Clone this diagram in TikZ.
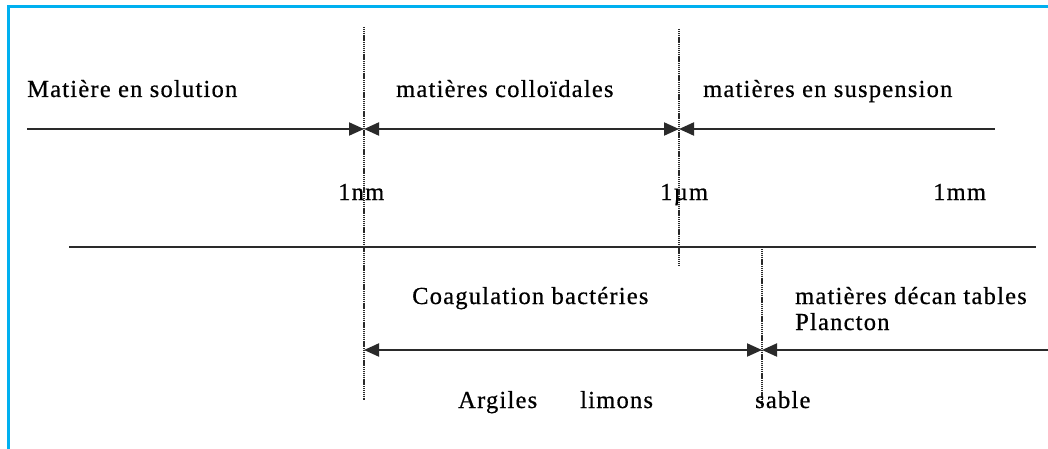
\documentclass[tikz,border=0pt]{standalone}
\usepackage{fontspec}
\setmainfont{Liberation Serif}[LetterSpace=5, FakeBold=0.6]
\usetikzlibrary{arrows.meta}
\definecolor{framecol}{HTML}{00B0F0}
\definecolor{linecol}{HTML}{2A2A2A}
\tikzset{
  label text/.style={anchor=base west, inner sep=0pt, font=\fontsize{24.5}{28}\selectfont},
  scale line/.style={draw=linecol, line width=2pt},
  limit/.style={draw=linecol, line width=2.2pt, dash pattern=on 1.2pt off 0.7pt},
}
\begin{document}
\begin{tikzpicture}[x=1pt,y=-1pt]
  \useasboundingbox (0,0) rectangle (1048,449);
  \clip (0,0) rectangle (1048,449);
  \fill[white] (0,0) rectangle (1048,449);
  % outer frame
  \draw[framecol, line width=3pt] (8,7) rectangle (1070,470);

  % size limits
  \coordinate (nmTop) at (364,27);
  \coordinate (nmBot) at (364,400);
  \coordinate (umTop) at (679,29);
  \coordinate (umBot) at (679,265);
  \coordinate (saTop) at (762,249);
  \coordinate (saBot) at (762,405);
  \draw[limit] (nmTop) -- (nmBot);
  \draw[limit] (umTop) -- (umBot);
  \draw[limit] (saTop) -- (saBot);

  % upper scale
  \coordinate (a1) at (27,129);
  \coordinate (b1) at (364,129);
  \coordinate (c1) at (679,129);
  \coordinate (d1) at (995,129);
  \draw[scale line, -{Triangle[length=15pt,width=13pt]}] (a1) -- (b1);
  \draw[scale line, {Triangle[length=15pt,width=13pt]}-{Triangle[length=15pt,width=13pt]}] (b1) -- (c1);
  \draw[scale line, {Triangle[length=15pt,width=13pt]}-] (c1) -- (d1);

  % separator
  \coordinate (s1) at (69,247);
  \coordinate (s2) at (1036,247);
  \draw[scale line] (s1) -- (s2);

  % lower scale
  \coordinate (b3) at (364,350);
  \coordinate (e3) at (762,350);
  \coordinate (f3) at (1050,350);
  \draw[scale line, {Triangle[length=15pt,width=13pt]}-{Triangle[length=15pt,width=13pt]}] (b3) -- (e3);
  \draw[scale line, {Triangle[length=15pt,width=13pt]}-] (e3) -- (f3);

  % labels
  \node[label text] (sol) at (27,97) {Matière en solution};
  \node[label text] (col) at (396,97) {matières colloïdales};
  \node[label text] (sus) at (703,97) {matières en suspension};
  \node[label text] (nm) at (338,200) {1nm};
  \node[label text] (um) at (660,200) {1µm};
  \node[label text] (mm) at (933,200) {1mm};
  \node[label text] (coag) at (412,304) {Coagulation bactéries};
  \node[label text] (dec) at (795,304) {matières décan tables};
  \node[label text] (plan) at (795,330) {Plancton};
  \node[label text] (arg) at (458,408) {Argiles};
  \node[label text] (lim) at (580,408) {limons};
  \node[label text] (sab) at (755,408) {sable};
\end{tikzpicture}
\end{document}
